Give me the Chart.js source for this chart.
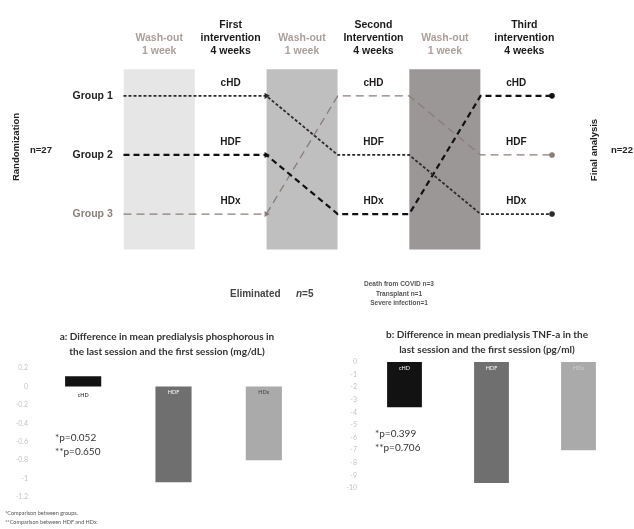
<!DOCTYPE html>
<html lang="en">
<head>
  <meta charset="UTF-8" />
  <script src="https://cdn.jsdelivr.net/npm/chart.js"></script>
  <title>Crossover design and outcomes</title>
  <style>
    body { margin: 0; background: #fff; width: 634px; height: 529px; overflow: hidden; position: relative; font-family: "Liberation Sans", Arial, sans-serif; }
    .abs { position: absolute; white-space: nowrap; }
    #designBox { left: 0; top: 0; width: 634px; height: 306px; overflow: hidden; }
    .side { font-weight: bold; font-size: 9.5px; color: #222; }
    .rot { transform: translate(-50%, -50%) rotate(-90deg); }
    .ttl { font-family: Lato, sans-serif; font-weight: bold; font-size: 10px; color: #333; text-align: center; line-height: 15px; transform: translateX(-50%); }
    .pv { font-family: Lato, sans-serif; font-size: 10px; color: #333; line-height: 14px; }
    .foot { font-family: Lato, sans-serif; font-size: 5.5px; color: #555; line-height: 9px; }
  </style>
</head>
<body>
  <!-- Study design -->
  <div id="designBox" class="abs">
    <canvas id="designChart" width="634" height="306"></canvas>
    <div class="abs side rot" style="left:15px; top:147px;">Randomization</div>
    <div class="abs side" style="left:30px; top:144px;">n=27</div>
    <div class="abs side rot" style="left:593px; top:150px;">Final analysis</div>
    <div class="abs side" style="left:611px; top:144px;">n=22</div>
    <div class="abs side" style="left:230px; top:288px; color:#444; font-size:10px;">Eliminated</div>
    <div class="abs side" style="left:296px; top:288px; color:#444; font-size:10px;"><i>n</i>=5</div>
    <div class="abs" style="left:399px; top:279px; transform:translateX(-50%); text-align:center; font-size:6.5px; line-height:9.5px; font-weight:bold; color:#555;">
      Death from COVID n=3<br>Transplant n=1<br>Severe infection=1
    </div>
  </div>

  <!-- Panel a -->
  <canvas id="phosChart" class="abs" style="left:0; top:320px;" width="320" height="209"></canvas>
  <div class="abs ttl" style="left:167px; top:329px;">a: Difference in mean predialysis phosphorous in<br>the last session and the first session (mg/dL)</div>
  <div class="abs pv" style="left:55px; top:430px;">*p=0.052<br>**p=0.650</div>
  <div class="abs foot" style="left:5px; top:509px;">*Comparison between groups.<br>**Comparison between HDF and HDx</div>

  <!-- Panel b -->
  <canvas id="tnfChart" class="abs" style="left:320px; top:320px;" width="314" height="209"></canvas>
  <div class="abs ttl" style="left:487px; top:327px;">b: Difference in mean predialysis TNF-a in the<br>last session and the first session (pg/ml)</div>
  <div class="abs pv" style="left:375px; top:426px;">*p=0.399<br>**p=0.706</div>

  <script>
    // ---- data ----
    const treatments = ['cHD', 'HDF', 'HDx'];
    const groupNames = ['Group 1', 'Group 2', 'Group 3'];
    const sequences = [
      ['cHD', 'HDF', 'HDx'],
      ['HDF', 'HDx', 'cHD'],
      ['HDx', 'cHD', 'HDF']
    ];
    const stageHeaders = [
      ['Wash-out', '1 week'],
      ['First', 'intervention', '4 weeks'],
      ['Wash-out', '1 week'],
      ['Second', 'Intervention', '4 weeks'],
      ['Wash-out', '1 week'],
      ['Third', 'intervention', '4 weeks']
    ];

    const phosLabels = ['cHD', 'HDF', 'HDx'];
    const phosValues = [0.11, -1.04, -0.8];
    const phosTicks = [0.2, 0, -0.2, -0.4, -0.6, -0.8, -1.0, -1.2];

    const tnfLabels = ['cHD', 'HDF', 'HDx'];
    const tnfValues = [-3.6, -9.6, -7.0];
    const tnfTicks = [0, -1, -2, -3, -4, -5, -6, -7, -8, -9, -10];

    // ---- design diagram ----
    const washColors = ['#e6e6e6', '#bfbfbf', '#9b9797'];
    const groupStyles = [
      { color: '#2b2b2b', width: 1.8, dash: [3, 2] },
      { color: '#111111', width: 2.2, dash: [6, 4] },
      { color: '#8a7d78', width: 1.3, dash: [8, 5] }
    ];
    const boxTop = 0.55, boxBottom = 3.6;

    const rowOf = t => treatments.indexOf(t) + 1;

    const designSets = [];
    sequences.forEach((seq, g) => {
      const pts = [];
      seq.forEach((t, p) => {
        pts.push({ x: p * 2 + (p === 0 ? 0 : 1), y: rowOf(t) });
        pts.push({ x: p * 2 + 2, y: rowOf(t) });
      });
      const st = groupStyles[g];
      designSets.push({
        data: pts,
        borderColor: st.color,
        backgroundColor: st.color,
        borderWidth: st.width,
        borderDash: st.dash,
        pointRadius: ctx => ctx.dataIndex === 1 ? 3.5 : (ctx.dataIndex === 5 ? 2.8 : 0),
        pointStyle: ctx => ctx.dataIndex === 1 ? 'triangle' : 'circle',
        rotation: 90,
        pointBorderWidth: 0,
        tension: 0,
        fill: false,
        clip: false,
        order: 0
      });
    });
    washColors.forEach((c, i) => {
      designSets.push({
        data: [{ x: i * 2, y: boxTop }, { x: i * 2 + 1, y: boxTop }],
        borderWidth: 0,
        pointRadius: 0,
        backgroundColor: c,
        fill: { value: boxBottom },
        order: 5
      });
    });

    const designText = {
      id: 'designText',
      afterDatasetsDraw(chart) {
        const { ctx, scales: { x, y } } = chart;
        ctx.save();
        ctx.textAlign = 'center';
        ctx.textBaseline = 'middle';
        ctx.font = 'bold 10.5px "Liberation Sans", Arial';
        stageHeaders.forEach((lines, i) => {
          ctx.fillStyle = i % 2 === 0 ? '#ab9f9a' : '#1a1a1a';
          const cx = x.getPixelForValue(i + 0.5) + (i === 5 ? 8 : 0);
          const by = y.getPixelForValue(0.24);
          lines.forEach((t, k) => ctx.fillText(t, cx, by - (lines.length - 1 - k) * 13));
        });
        ctx.fillStyle = '#1a1a1a';
        ctx.font = 'bold 10px "Liberation Sans", Arial';
        for (let p = 0; p < 3; p++) {
          treatments.forEach((t, r) => {
            ctx.fillText(t, x.getPixelForValue(p * 2 + 1.5), y.getPixelForValue(r + 1) - 13);
          });
        }
        ctx.textAlign = 'right';
        ctx.font = 'bold 10.5px "Liberation Sans", Arial';
        groupNames.forEach((gName, g) => {
          ctx.fillStyle = g === 2 ? '#8d817c' : '#222';
          ctx.fillText(gName, x.getPixelForValue(-0.15), y.getPixelForValue(rowOf(sequences[g][0])));
        });
        ctx.restore();
      }
    };

    new Chart(document.getElementById('designChart'), {
      type: 'line',
      data: { datasets: designSets },
      options: {
        responsive: false,
        animation: false,
        devicePixelRatio: 1,
        events: [],
        layout: { padding: 0 },
        plugins: { legend: { display: false }, tooltip: { enabled: false } },
        scales: {
          x: { type: 'linear', display: false, min: -1.673, max: 7.092 },
          y: { type: 'linear', display: false, reverse: true, min: -0.554, max: 4.488 }
        }
      },
      plugins: [designText]
    });

    // ---- bar panels ----
    function barLabelPlugin(labels, colors) {
      return {
        id: 'barLabels',
        afterDatasetsDraw(chart) {
          const { ctx } = chart;
          const meta = chart.getDatasetMeta(0);
          ctx.save();
          ctx.textAlign = 'center';
          ctx.textBaseline = 'middle';
          ctx.font = '5.5px Lato, sans-serif';
          meta.data.forEach((bar, i) => {
            const up = bar.y < bar.base;
            ctx.fillStyle = colors[i];
            ctx.fillText(labels[i], bar.x, bar.base + (up ? 9 : 6));
          });
          ctx.restore();
        }
      };
    }

    function barPanel(id, labels, values, ticks, axisW, tickPad, pad, labelColors) {
      new Chart(document.getElementById(id), {
        type: 'bar',
        data: {
          labels: labels,
          datasets: [{
            data: values,
            backgroundColor: ['#121212', '#6f6f6f', '#aaaaaa'],
            borderWidth: 0,
            categoryPercentage: 1,
            barPercentage: 0.4
          }]
        },
        options: {
          responsive: false,
          animation: false,
          devicePixelRatio: 1,
          events: [],
          layout: { padding: pad },
          plugins: { legend: { display: false }, tooltip: { enabled: false } },
          scales: {
            x: { display: false },
            y: {
              min: ticks[ticks.length - 1],
              max: ticks[0],
              afterFit: axis => { axis.width = axisW; },
              afterBuildTicks: axis => { axis.ticks = ticks.map(v => ({ value: v })); },
              grid: { display: false, drawTicks: false },
              border: { display: false },
              ticks: {
                color: '#c4c4c4',
                padding: tickPad,
                font: { family: 'Lato', size: 7 },
                callback: v => Math.abs(v) < 1e-9 ? '0' : (Number.isInteger(v) ? String(v) : v.toFixed(1))
              }
            }
          }
        },
        plugins: [barLabelPlugin(labels, labelColors)]
      });
    }

    barPanel('phosChart', phosLabels, phosValues, phosTicks, 38, 10,
      { top: 48, bottom: 32, left: 0, right: 11 }, ['#222', '#ffffff', '#444']);
    barPanel('tnfChart', tnfLabels, tnfValues, tnfTicks, 41, 4,
      { top: 42, bottom: 41, left: 0, right: 12 }, ['#ffffff', '#ffffff', '#cfcfcf']);
  </script>
</body>
</html>
